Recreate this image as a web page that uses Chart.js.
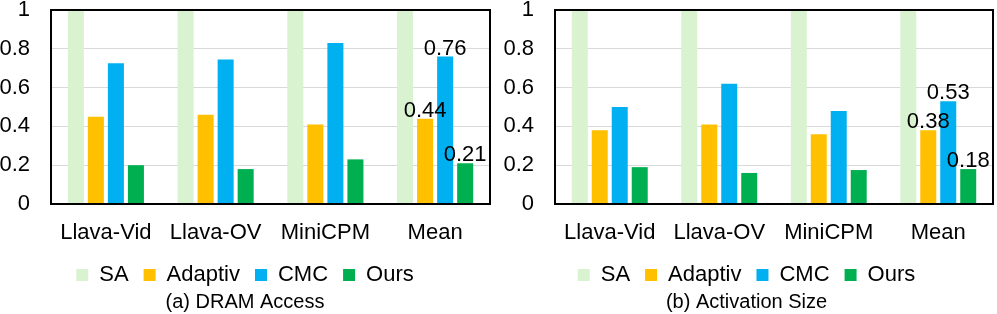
<!DOCTYPE html>
<html>
<head>
<meta charset="utf-8">
<script src="https://cdn.jsdelivr.net/npm/chart.js@4"></script>
<style>
  body { margin: 0; background: #fff; }
  #wrap { display: flex; width: 997px; height: 314px; }
  canvas { display: block; }
</style>
</head>
<body>
<div id="wrap">
  <canvas id="dram" width="500" height="314"></canvas>
  <canvas id="act" width="497" height="314"></canvas>
</div>
<script>
// models on the x axis
const models = ['Llava-Vid', 'Llava-OV', 'MiniCPM', 'Mean']
const seriesNames = ['SA', 'Adaptiv', 'CMC', 'Ours']

// (a) DRAM Access, normalised to SA
const dramSA      = [1, 1, 1, 1]
const dramAdaptiv = [0.45, 0.46, 0.41, 0.44]
const dramCMC     = [0.725, 0.745, 0.83, 0.76]
const dramOurs    = [0.20, 0.18, 0.23, 0.21]

// (b) Activation Size, normalised to SA
const actSA      = [1, 1, 1, 1]
const actAdaptiv = [0.38, 0.41, 0.36, 0.38]
const actCMC     = [0.50, 0.62, 0.48, 0.53]
const actOurs    = [0.19, 0.16, 0.175, 0.18]

const yTicks = [0, 0.2, 0.4, 0.6, 0.8, 1]

const colors = ['#D9F2D0', '#FFC000', '#00B0F0', '#00B050']
const FONT = 'Arial, "Liberation Sans", Helvetica, sans-serif'

Chart.defaults.font.family = FONT
Chart.defaults.color = '#000'

// black frame round the plot
const framePlugin = {
  id: 'frame',
  afterDatasetsDraw(chart) {
    const a = chart.chartArea
    const ctx = chart.ctx
    ctx.save()
    ctx.strokeStyle = '#000'
    ctx.lineWidth = 2
    ctx.strokeRect(a.left, a.top, a.right - a.left, a.bottom - a.top)
    ctx.restore()
  }
}

// value labels over the Mean group (not for SA)
const meanLabels = {
  id: 'meanLabels',
  afterDraw(chart) {
    const ctx = chart.ctx
    const last = models.length - 1
    ctx.save()
    ctx.font = '22px ' + FONT
    ctx.fillStyle = '#000'
    ctx.textAlign = 'center'
    ctx.textBaseline = 'bottom'
    for (let d = 1; d < chart.data.datasets.length; d++) {
      const bar = chart.getDatasetMeta(d).data[last]
      const v = chart.data.datasets[d].data[last]
      ctx.fillText(v.toFixed(2), bar.x, bar.y + 3)
    }
    ctx.restore()
  }
}

function makeChart(id, title, series, axisWidth, padRight)
{
  const datasets = []
  for (let i = 0; i < series.length; i++) {
    datasets.push({
      label: seriesNames[i],
      data: series[i],
      backgroundColor: colors[i],
      borderWidth: 0,
      categoryPercentage: 0.73,
      barPercentage: 0.8
    })
  }

  const config = {
    type: 'bar',
    data: { labels: models, datasets: datasets },
    options: {
      responsive: false,
      animation: false,
      layout: { padding: { top: 10, right: padRight, left: 0, bottom: 0 } },
      plugins: {
        legend: {
          position: 'bottom',
          maxHeight: 41,
          labels: { boxWidth: 12, boxHeight: 12, padding: 15, font: { size: 22 } }
        },
        title: {
          display: true,
          text: title,
          position: 'bottom',
          font: { size: 20, weight: 'normal' },
          padding: { top: 0, bottom: 0 }
        },
        tooltip: { enabled: false }
      },
      scales: {
        x: {
          afterFit(scale) {
            scale.height = 45
            scale.paddingLeft = 0
            scale.paddingRight = 0
          },
          grid: { display: false, drawTicks: false },
          border: { display: false },
          ticks: { font: { size: 22 }, padding: 16, maxRotation: 0, autoSkip: false }
        },
        y: {
          min: 0,
          max: 1,
          afterBuildTicks(scale) { scale.ticks = yTicks.map(v => ({ value: v })) },
          afterFit(scale) {
            scale.width = axisWidth
            scale.paddingTop = 0
            scale.paddingBottom = 0
          },
          grid: { color: '#d9d9d9', lineWidth: 1, drawTicks: false },
          border: { display: false },
          ticks: {
            font: { size: 22 },
            padding: 21,
            autoSkip: false,
            callback: v => String(v)
          }
        }
      }
    },
    plugins: [framePlugin, meanLabels]
  }

  let ctx = document.getElementById(id).getContext('2d')
  new Chart(ctx, config)
}

makeChart('dram', '(a) DRAM Access', [dramSA, dramAdaptiv, dramCMC, dramOurs], 51, 10)
makeChart('act', '(b) Activation Size', [actSA, actAdaptiv, actCMC, actOurs], 55, 4)
</script>
</body>
</html>
